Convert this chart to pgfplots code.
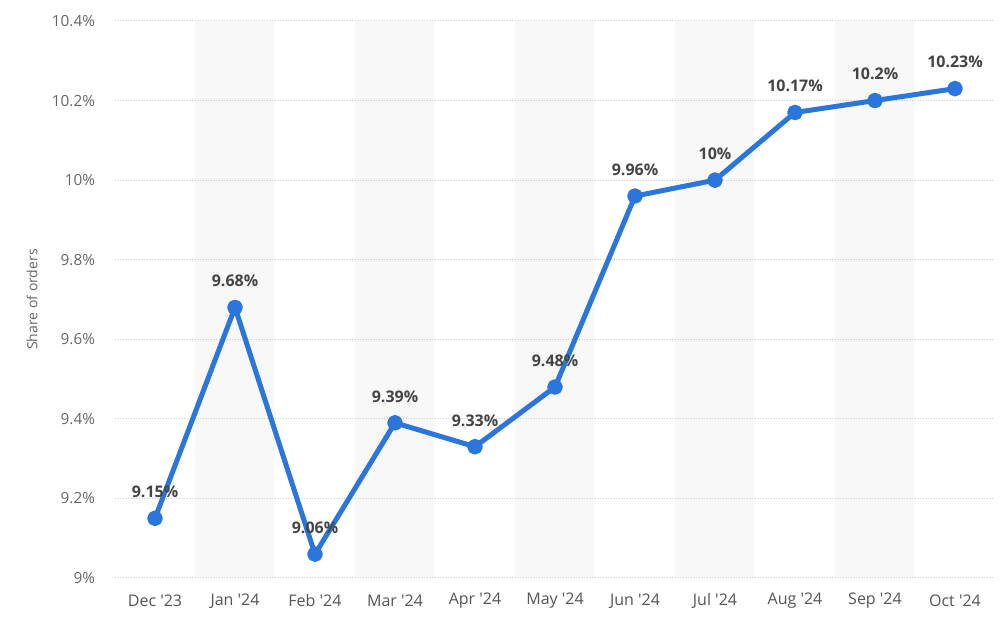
\documentclass[border=0pt]{standalone}
\usepackage{fontspec}
\setmainfont{Open Sans}
\usepackage{pgfplots}
\pgfplotsset{compat=1.18}
\definecolor{linec}{HTML}{2A76DD}
\definecolor{band}{HTML}{F8F8F8}
\definecolor{gridc}{HTML}{CCCCCC}
\definecolor{tickc}{HTML}{666666}
\definecolor{xtickc}{HTML}{555555}
\definecolor{lblc}{HTML}{444444}
\newcommand{\q}{\textquotesingle}
\begin{document}
\begin{tikzpicture}[x=1pt,y=1pt]
\begin{axis}[
  set layers,
  at={(0,0)}, anchor=south west, scale only axis,
  width=660pt, height=417.75pt,
  xmin=-0.5, xmax=10.5, ymin=9, ymax=10.4,
  xtick={0,1,2,3,4,5,6,7,8,9,10},
  xticklabels={Dec \q23,Jan \q24,Feb \q24,Mar \q24,Apr \q24,May \q24,Jun \q24,Jul \q24,Aug \q24,Sep \q24,Oct \q24},
  ytick={9,9.2,9.4,9.6,9.8,10,10.2,10.4},
  yticklabels={9\%,9.2\%,9.4\%,9.6\%,9.8\%,10\%,10.2\%,10.4\%},
  axis line style={draw=none},
  major tick length=0pt,
  ymajorgrids,
  grid style={color=gridc, line width=0.75pt, dash pattern=on 0.75pt off 1.25pt},
  yticklabel style={font=\fontsize{11.5}{13}\selectfont, color=tickc, anchor=east, xshift=-11.5pt},
  xticklabel style={font=\fontsize{12}{14}\selectfont, color=xtickc, anchor=center, yshift=-17.25pt},
  ylabel={Share of orders},
  ylabel style={at={(axis description cs:-0.0943,0.5)}, anchor=center, font=\fontsize{10.5}{12}\selectfont, color=tickc},
  clip=false,
]
\addplot[fill=band, draw=none, on layer=axis background] coordinates {(0.5,9) (1.5,9) (1.5,10.4) (0.5,10.4)} -- cycle;
\addplot[fill=band, draw=none, on layer=axis background] coordinates {(2.5,9) (3.5,9) (3.5,10.4) (2.5,10.4)} -- cycle;
\addplot[fill=band, draw=none, on layer=axis background] coordinates {(4.5,9) (5.5,9) (5.5,10.4) (4.5,10.4)} -- cycle;
\addplot[fill=band, draw=none, on layer=axis background] coordinates {(6.5,9) (7.5,9) (7.5,10.4) (6.5,10.4)} -- cycle;
\addplot[fill=band, draw=none, on layer=axis background] coordinates {(8.5,9) (9.5,9) (9.5,10.4) (8.5,10.4)} -- cycle;
\addplot[color=linec, line width=3.75pt, line join=round, mark=*, mark size=4pt,
  mark options={fill=linec, draw=none},
  point meta=explicit symbolic,
  nodes near coords={\pgfplotspointmeta},
  every node near coord/.append style={font=\bfseries\fontsize{12}{14}\selectfont, color=lblc, anchor=base, yshift=15.5pt, inner sep=0pt}]
coordinates {
(0,9.15) [9.15\%]
(1,9.68) [9.68\%]
(2,9.06) [9.06\%]
(3,9.39) [9.39\%]
(4,9.33) [9.33\%]
(5,9.48) [9.48\%]
(6,9.96) [9.96\%]
(7,10.00) [10\%]
(8,10.17) [10.17\%]
(9,10.20) [10.2\%]
(10,10.23) [10.23\%]
};
\end{axis}
\pgfresetboundingbox
\useasboundingbox (-86.25,-33.75) rectangle (663.75,433.5);
\end{tikzpicture}
\end{document}
